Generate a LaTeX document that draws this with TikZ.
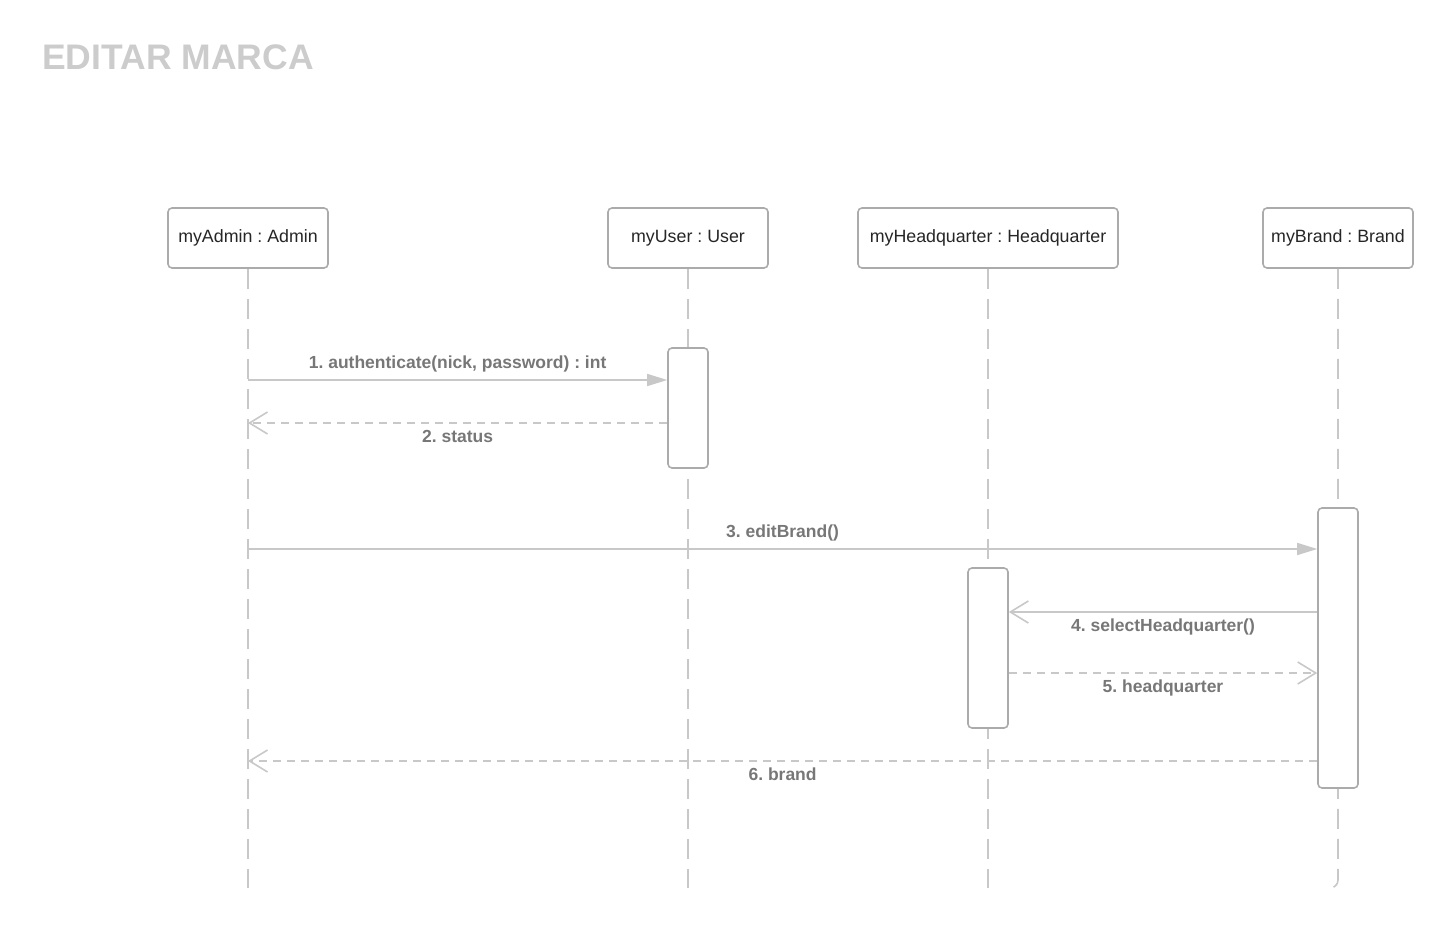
\documentclass[tikz,border=0pt]{standalone}
\usepackage{fontspec}
\setmainfont{Liberation Sans}
\usetikzlibrary{arrows.meta,positioning}
\frenchspacing

\definecolor{titlegray}{HTML}{CCCCCC}
\definecolor{boxgray}{HTML}{ABABAB}
\definecolor{linegray}{HTML}{C8C8C8}
\definecolor{labelgray}{HTML}{777777}

\begin{document}
\begin{tikzpicture}[x=1pt,y=-1pt]
\tikzstyle{every node}=[inner sep=0pt]
\tikzset{head/.style={draw=boxgray, line width=1.6pt, rounded corners=4pt, fill=white, minimum height=60pt, font=\fontsize{17.8}{20}\selectfont, text=black!85}}
\tikzset{act/.style={draw=boxgray, line width=1.6pt, rounded corners=4pt, fill=white, minimum width=40pt}}
\tikzset{lifeline/.style={draw=linegray, line width=1.6pt, dash pattern=on 20pt off 10pt}}
\tikzset{call/.style={draw=linegray, line width=1.6pt, -{Triangle[length=20pt,width=12pt]}}}
\tikzset{send/.style={draw=linegray, line width=1.6pt, -{Straight Barb[length=18pt,width=22pt,line width=1.6pt]}}}
\tikzset{reply/.style={send, dash pattern=on 8pt off 6pt}}
\tikzset{lbl/.style={font=\bfseries\fontsize{17.5}{20}\selectfont, text=labelgray}}
\useasboundingbox (0,0) rectangle (1453,928);
\node [anchor=base west, font=\bfseries\fontsize{35.5}{40}\selectfont, text=titlegray] (title) at (42,70) {EDITAR MARCA};
% heads
\node [head, minimum width=160pt] (admin) at (248,238) {myAdmin : Admin};
\node [head, minimum width=160pt] (user) at (688,238) {myUser : User};
\node [head, minimum width=260pt] (hq) at (988,238) {myHeadquarter : Headquarter};
\node [head, minimum width=150pt] (brand) at (1338,238) {myBrand : Brand};
% lifelines
\coordinate (adminend) at (248,888);
\coordinate (userend) at (688,888);
\coordinate (hqend) at (988,888);
\coordinate (brandend) at (1328,888);
\path [lifeline] (admin) -- (adminend);
\path [lifeline] (user) -- (userend);
\path [lifeline] (hq) -- (hqend);
\path [lifeline, rounded corners=8pt] (brand) -- (brand |- brandend) -- (brandend);
% activations
\node [act, minimum height=120pt] (useract) at (688,408) {};
\node [act, minimum height=160pt] (hqact) at (988,648) {};
\node [act, minimum height=280pt] (brandact) at (1338,648) {};
% messages
\coordinate (m1) at (248,380);
\coordinate (m2) at (248,423);
\coordinate (m3) at (248,549);
\coordinate (m6) at (248,761);
\path (m1) edge [call] node [lbl, above=7pt, pos=0.5] {1. authenticate(nick, password) : int} (useract.west |- m1);
\path (useract.west |- m2) edge [reply] node [lbl, below=6pt] {2. status} (m2);
\path (m3) edge [call] node [lbl, above=7pt] {3. editBrand()} (brandact.west |- m3);
\path (brandact.west |- 0,612) edge [send] node [lbl, below=6pt] {4. selectHeadquarter()} (hqact.east |- 0,612);
\path (hqact.east |- 0,673) edge [reply] node [lbl, below=6pt] {5. headquarter} (brandact.west |- 0,673);
\path (brandact.west |- m6) edge [reply] node [lbl, below=6pt] {6. brand} (m6);
\end{tikzpicture}
\end{document}
